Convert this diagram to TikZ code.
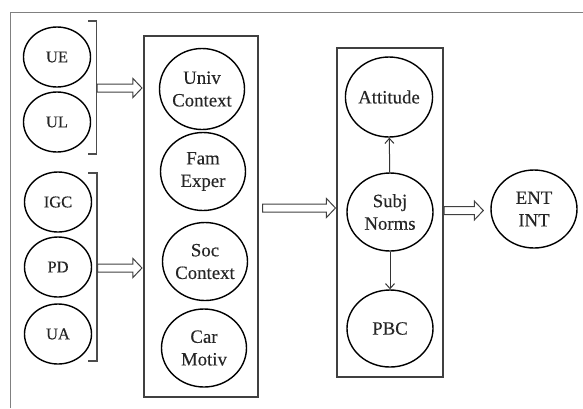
\documentclass[tikz,border=0pt]{standalone}
\usepackage{fontspec}
\setmainfont{Liberation Serif}[FakeBold=0.3]
\usetikzlibrary{shapes.geometric,arrows.meta,calc}
\begin{document}
\begin{tikzpicture}[x=1pt,y=-1pt,
  smallcirc/.style={ellipse,draw=black,line width=1.4pt,minimum width=67pt,minimum height=60pt,inner sep=0pt,font=\fontsize{16.5}{19}\selectfont,text=black!85},
  bigcirc/.style={ellipse,draw=black,line width=1.4pt,minimum width=85pt,minimum height=78pt,inner sep=0pt,align=center,font=\fontsize{18.8}{22.6}\selectfont,text=black!85},
  groupbox/.style={draw=black!75,line width=1.1pt,inner sep=0pt},
  bracketline/.style={draw=black!70,line width=1.1pt},
  blockarrow/.style={draw=black!75,line width=1pt,line join=miter,
    to path={let \p1=(\tikztostart), \p2=(\tikztotarget) in
      ({\x1},{\y1+4pt}) -- ({\x2-9pt},{\y1+4pt}) -- ({\x2-9pt},{\y1+9.5pt}) --
      ({\x2},{\y1}) -- ({\x2-9pt},{\y1-9.5pt}) -- ({\x2-9pt},{\y1-4pt}) --
      ({\x1},{\y1-4pt}) -- cycle}},
  thinarrow/.style={draw=black!80,line width=1pt,-{Straight Barb[length=5pt,width=9pt]}}]
\useasboundingbox (0,0) rectangle (583,408);
% outer frame
\draw[black!50,line width=1pt] (10,408) -- (10,12) -- (583,12);
% left ellipses
\node[smallcirc] (ue) at (57,57) {UE};
\node[smallcirc] (ul) at (57,122) {UL};
\node[smallcirc] (igc) at (58,202) {IGC};
\node[smallcirc] (pd) at (58,267) {PD};
\node[smallcirc] (ua) at (58,334) {UA};
% brackets
\draw[bracketline] (88,21) -- (96.5,21) -- (96.5,154) -- (88,154);
\draw[bracketline] (88,173) -- (97,173) -- (97,361) -- (88,361);
\coordinate (br1) at (97,88);
\coordinate (br2) at (97.5,268);
% box 2
\node[groupbox,minimum width=114pt,minimum height=361pt] (box2) at (201,216.5) {};
\node[bigcirc,minimum height=81pt] (univ) at (202,89) {Univ\\Context};
\node[bigcirc] (fam) at (203,171.5) {Fam\\Exper};
\node[bigcirc] (soc) at (205,261.5) {Soc\\Context};
\node[bigcirc] (car) at (204,348) {Car\\Motiv};
% box 3
\node[groupbox,minimum width=106pt,minimum height=329pt] (box3) at (390,212.5) {};
\node[bigcirc,minimum width=86pt,minimum height=80pt] (att) at (389,97) {Attitude};
\node[bigcirc,minimum width=86pt] (subj) at (390,212) {Subj\\Norms};
\node[bigcirc,minimum width=86pt,minimum height=77pt] (pbc) at (390,328.5) {PBC};
% ENT INT
\node[bigcirc,minimum width=86pt] (ent) at (534,209) {ENT\\INT};
% arrows
\draw[blockarrow] (br1) to ([xshift=-1.5pt]box2.west |- br1);
\draw[blockarrow] (br2) to ([xshift=-1.5pt]box2.west |- br2);
\draw[blockarrow] ([xshift=4pt]box2.east |- 0,208) to ([xshift=-1pt]box3.west |- 0,208);
\draw[blockarrow] ([xshift=0.5pt]box3.east |- 0,210.5) to ([xshift=-7pt]ent.west |- 0,210.5);
\draw[thinarrow] (subj) -- (att);
\draw[thinarrow] (subj) -- (pbc);
\end{tikzpicture}
\end{document}
